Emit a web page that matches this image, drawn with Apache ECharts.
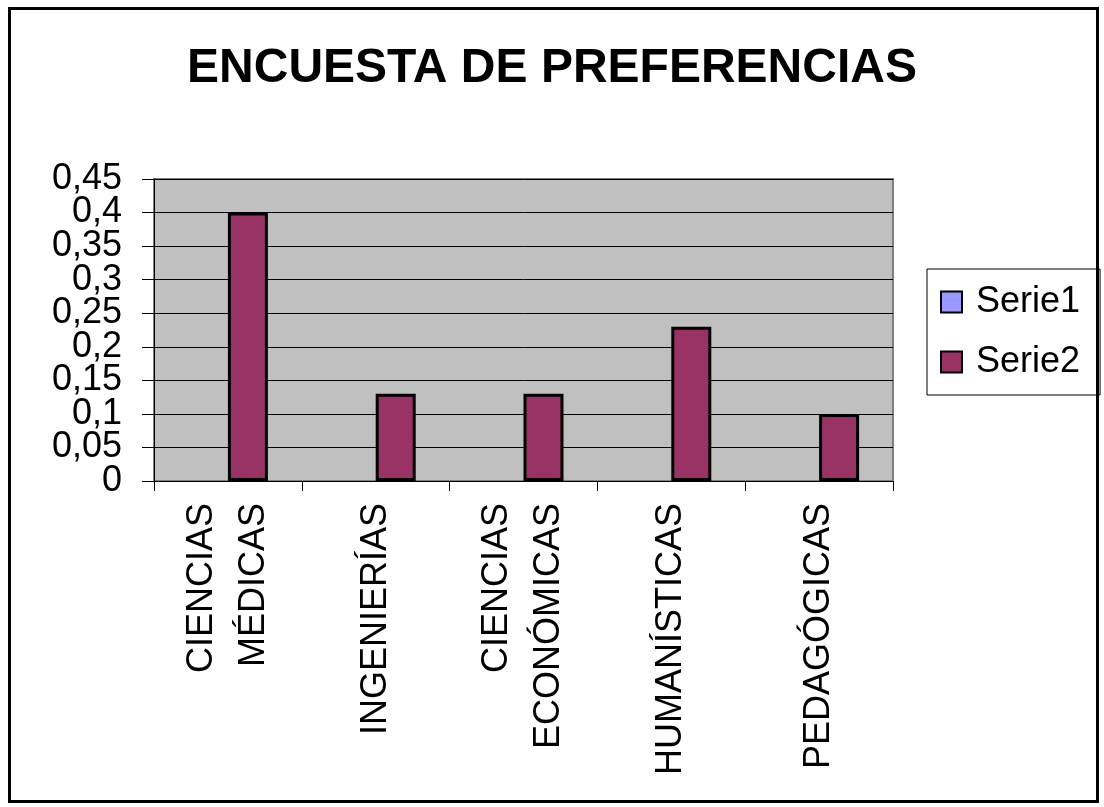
<!DOCTYPE html>
<html>
<head>
<meta charset="utf-8">
<script src="https://cdn.jsdelivr.net/npm/echarts@6/dist/echarts.min.js"></script>
<style>
  html, body { margin: 0; padding: 0; background: #fff; }
  #frame { position: absolute; left: 8px; top: 7px; width: 1085px; height: 790px; border: 3px solid #000; }
  #container { position: absolute; left: 0; top: 0; width: 1104px; height: 807px; }
</style>
</head>
<body>
<div id="frame"></div>
<div id="container"></div>
<script>
    const titleText = 'ENCUESTA DE PREFERENCIAS';
    const categories = ['CIENCIAS\nMÉDICAS', 'INGENIERÍAS', 'CIENCIAS\nECONÓMICAS', 'HUMANÍSTICAS', 'PEDAGÓGICAS'];
    const serie1 = [null, null, null, null, null];
    const serie2 = [0.4, 0.13, 0.13, 0.23, 0.1];
    const seriesNames = ['Serie1', 'Serie2'];
    const yMin = 0, yMax = 0.45, yStep = 0.05;

    let dom = document.getElementById('container');
    let myChart = echarts.init(dom);

    const font = 'Liberation Sans, Arial, sans-serif';

    // the labels are taller than the tick spacing, so split them over two
    // stacked axes (even / odd steps) to keep ECharts from hiding any
    function tickLabel(v, odd) {
        let k = Math.round(v / yStep);
        if ((k % 2 === 1) !== odd) return '';
        return String(Math.round(v * 100) / 100).replace('.', ',');
    }

    function labelStyle(odd) {
        return {
            margin: 32,
            fontSize: 36,
            color: '#000',
            fontFamily: font,
            showMinLabel: true,
            showMaxLabel: true,
            formatter: v => tickLabel(v, odd)
        };
    }

    let option = {
        animation: false,
        textStyle: { fontFamily: font },
        title: {
            text: titleText,
            left: 'center',
            top: 40,
            textStyle: { fontSize: 48, fontWeight: 'bold', color: '#000', fontFamily: font }
        },
        legend: {
            orient: 'vertical',
            left: 927,
            top: 269,
            padding: [15, 20, 15, 13],
            itemGap: 24,
            itemWidth: 21,
            itemHeight: 21,
            icon: 'rect',
            borderColor: '#000',
            borderWidth: 1,
            borderRadius: 0,
            textStyle: { fontSize: 36, color: '#000', fontFamily: font, padding: [0, 0, 0, 9] },
            itemStyle: { borderColor: '#000', borderWidth: 2 },
            data: seriesNames
        },
        grid: {
            left: 154,
            right: 211,
            top: 179,
            bottom: 326,
            show: true,
            backgroundColor: '#C0C0C0',
            borderColor: '#808080',
            borderWidth: 2
        },
        xAxis: {
            type: 'category',
            data: categories,
            axisLine: { lineStyle: { color: '#000', width: 1 } },
            axisTick: { show: true, length: 10, inside: false, lineStyle: { color: '#000' } },
            axisLabel: {
                rotate: 90,
                interval: 0,
                margin: 22,
                fontSize: 36,
                lineHeight: 52,
                color: '#000',
                fontFamily: font
            }
        },
        yAxis: [
            {
                type: 'value',
                position: 'left',
                min: yMin,
                max: yMax,
                interval: yStep,
                axisLine: { show: true, lineStyle: { color: '#000', width: 1 } },
                axisTick: { show: true, length: 12, lineStyle: { color: '#000' } },
                splitLine: { show: true, lineStyle: { color: '#000', width: 1 } },
                axisLabel: labelStyle(false)
            },
            {
                type: 'value',
                position: 'left',
                min: yMin,
                max: yMax,
                interval: yStep,
                axisLine: { show: false },
                axisTick: { show: false },
                splitLine: { show: false },
                axisLabel: labelStyle(true)
            }
        ],
        series: [
            {
                name: seriesNames[0],
                type: 'bar',
                data: serie1,
                barWidth: 40,
                barGap: 0,
                itemStyle: { color: '#9999FF', borderColor: '#000', borderWidth: 3 }
            },
            {
                name: seriesNames[1],
                type: 'bar',
                data: serie2,
                barWidth: 40,
                barGap: 0,
                itemStyle: { color: '#993366', borderColor: '#000', borderWidth: 3 }
            }
        ]
    };
    myChart.setOption(option);
</script>
</body>
</html>
